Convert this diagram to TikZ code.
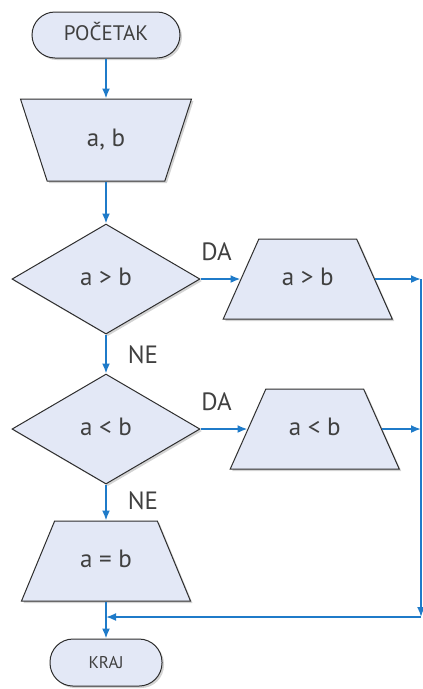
\documentclass[tikz,border=0pt]{standalone}
\usepackage{fontspec}
\setmainfont{PT Sans}
\usetikzlibrary{arrows.meta, positioning, shapes.geometric, shadows}

\definecolor{boxfill}{HTML}{E3E8F6}
\definecolor{boxline}{HTML}{2E2E2E}
\definecolor{flowblue}{HTML}{1F7BC9}

\begin{document}
\begin{tikzpicture}[x=1pt, y=-1pt]

  \tikzstyle{base} = [draw=boxline, line width=1pt, fill=boxfill, inner sep=1pt, text height=18pt, text depth=5pt, text=black!75, drop shadow={opacity=0.35, shadow xshift=2pt, shadow yshift=-2pt}, font=\fontsize{25}{28}\selectfont];
  \tikzstyle{term} = [base, rectangle, rounded corners=23pt, minimum height=46pt, text height=15pt, text depth=4pt, font=\fontsize{21}{24}\selectfont];
  \tikzstyle{inbox} = [base, trapezium, trapezium stretches body, shape border rotate=180, trapezium left angle=72, trapezium right angle=72, inner ysep=29.5pt, minimum width=171pt];
  \tikzstyle{outbox} = [base, trapezium, trapezium stretches body, trapezium left angle=66, trapezium right angle=66, inner ysep=28.5pt, minimum width=169pt];
  \tikzstyle{decision} = [base, diamond, minimum width=188pt, minimum height=110pt];
  \tikzstyle{flow} = [draw=flowblue, line width=1.8pt, -{Latex[length=10pt, width=8pt]}];
  \tikzstyle{lbl} = [inner sep=0pt, text=black!75, font=\fontsize{25}{28}\selectfont];

  \useasboundingbox (0,0) rectangle (423,689);

  \node [term, minimum width=148pt]          (start) at (106,35) {POČETAK};
  \node [inbox, below=40pt of start]         (input) {a, b};
  \node [decision, below=42pt of input]      (gt)    {a > b};
  \node [decision, below=39pt of gt]         (lt)    {a < b};
  \node [outbox, trapezium left angle=67.5, trapezium right angle=67.5, below=36pt of lt] (eq) {a = b};
  \node [term, minimum width=112pt, minimum height=47pt, font=\fontsize{17}{20}\selectfont, below=37pt of eq] (stop) {KRAJ};

  \node [outbox, right=40pt of gt] (gtout) {a > b};
  \node [outbox, right=47pt of lt] (ltout) {a < b};

  \coordinate (corner) at (421,617);
  \coordinate (gtright) at (gtout.east -| corner);
  \coordinate (ltright) at (ltout.east -| corner);

  \draw[flow] (start.south) -- (input.north);
  \draw[flow] (input.south) -- (gt.north);
  \draw[flow] (gt.east) -- node[lbl, anchor=south west, pos=0, yshift=17pt] {DA} (gtout.west);
  \draw[flow] (gt.south) -- node[lbl, anchor=north west, pos=0, xshift=21pt, yshift=-10pt] {NE} (lt.north);
  \draw[flow] (lt.east) -- node[lbl, anchor=south west, pos=0, yshift=17pt] {DA} (ltout.west);
  \draw[flow] (lt.south) -- node[lbl, anchor=north west, pos=0, xshift=21pt, yshift=-6pt] {NE} (eq.north);
  \draw[flow] (eq.south) -- (stop.north);

  \draw[flow] (gtout.east) -- (gtright);
  \draw[flow] (ltout.east) -- (ltright);
  \draw[flow] (gtright) -- (corner);
  \draw[flow] (corner) -- (eq.south |- corner);

\end{tikzpicture}
\end{document}
